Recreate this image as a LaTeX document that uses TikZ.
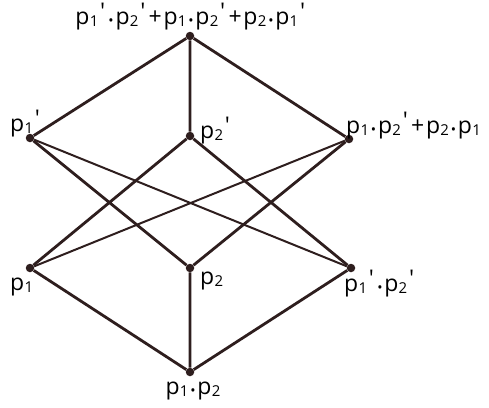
\documentclass[tikz,border=0pt]{standalone}
\usepackage{fontspec}
\newfontfamily\lab{Open Sans}
\definecolor{ln}{HTML}{2E1E1E}
\newcommand{\pp}[1]{p\kern0.01em\raisebox{-0.22ex}{\fontsize{15}{15}\selectfont #1}}
\newcommand{\pr}{\kern0.08em\raisebox{0.4ex}{'}\kern0.06em}
\newcommand{\bt}{\kern0.08em\raisebox{-0.1ex}{\fontsize{14}{14}\selectfont•}\kern0.08em}
\newcommand{\pl}{\kern0.08em+\kern0.08em}
\begin{document}
\begin{tikzpicture}[x=1pt,y=-1pt,
  vert/.style={circle,fill=ln,inner sep=0pt,minimum size=8.5pt},
  lbl/.style={font=\lab\fontsize{23}{23}\selectfont,inner sep=0pt,text=black},
  thick edge/.style={draw=ln,line width=2.8pt},
  thin edge/.style={draw=ln,line width=2.0pt}]
\useasboundingbox (0,0) rectangle (489,407);
\node[vert] (T) at (190,36) {};
\node[vert] (A) at (30,138) {};
\node[vert] (B) at (190,136) {};
\node[vert] (C) at (349,139) {};
\node[vert] (D) at (30,268) {};
\node[vert] (E) at (190,268) {};
\node[vert] (F) at (351,268) {};
\node[vert] (G) at (190,372) {};
\node[lbl,anchor=base] (tT) at (191,24) {\pp{1}\pr\bt\pp{2}\pr\pl\pp{1}\bt\pp{2}\pr\pl\pp{2}\bt\pp{1}\pr};
\node[lbl,anchor=base west] (tA) at (10,131) {\pp{1}\pr};
\node[lbl,anchor=base west] (tB) at (200,138) {\pp{2}\pr};
\node[lbl,anchor=base west] (tC) at (346,133) {\pp{1}\bt\pp{2}\pr\pl\pp{2}\bt\pp{1}};
\node[lbl,anchor=base west] (tD) at (10,290) {\pp{1}};
\node[lbl,anchor=base west] (tE) at (200,284) {\pp{2}};
\node[lbl,anchor=base west] (tF) at (344,291) {\pp{1}\pr\bt\pp{2}\pr};
\node[lbl,anchor=base] (tG) at (193,394) {\pp{1}\bt\pp{2}};
\path[thick edge] (T) -- (A) (T) -- (B) (T) -- (C);
\path[thick edge] (A) -- (E) (B) -- (D) (B) -- (F) (C) -- (E);
\path[thin edge] (A) -- (F) (C) -- (D);
\path[thick edge] (D) -- (G) (E) -- (G) (F) -- (G);
\end{tikzpicture}
\end{document}
